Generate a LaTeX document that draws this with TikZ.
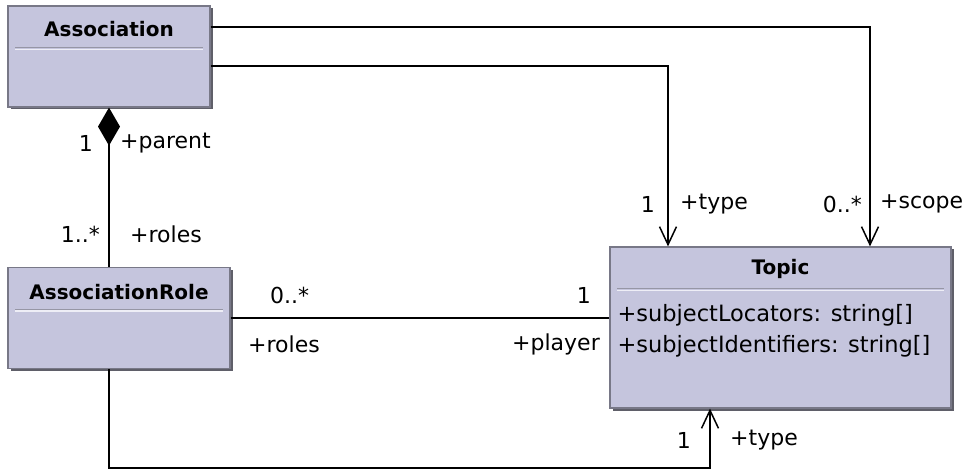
\documentclass[tikz,border=0pt]{standalone}
\usepackage{fontspec}
\setmainfont{DejaVu Sans}
\usetikzlibrary{arrows.meta, shadows}

\definecolor{classfill}{RGB}{197,197,221}
\definecolor{classline}{RGB}{120,120,135}
\definecolor{classshadow}{RGB}{95,95,105}
\definecolor{sepline}{RGB}{238,238,246}
\definecolor{sepdark}{RGB}{150,150,165}

\tikzset{
  umlclass/.style={draw=classline, fill=classfill, line width=1.2pt, inner sep=0pt,
    drop shadow={shadow xshift=2.5pt, shadow yshift=-2.5pt, fill=classshadow, opacity=1}},
  classname/.style={font=\fontsize{20}{23}\selectfont\bfseries, inner sep=0pt},
  attrs/.style={font=\fontsize{22.5}{31}\selectfont, align=left, anchor=north west, inner sep=0pt},
  mult/.style={font=\fontsize{22}{26}\selectfont, inner sep=0pt},
  sep/.style={draw=sepline, line width=1.6pt},
  sepshade/.style={draw=sepdark, line width=0.8pt},
  link/.style={line width=1.6pt},
  nav/.style={link, -{Straight Barb[length=18pt,width=17pt,line width=1.5pt]}},
  comp/.style={link, {Diamond[length=38pt,width=22pt]}-},
}

\begin{document}
\begin{tikzpicture}[x=1pt, y=-1pt]
  \useasboundingbox (0,0) rectangle (969,470);

  % classes
  \node[umlclass, minimum width=202pt, minimum height=101pt] (assoc) at (109,56.5) {};
  \node[classname] (assoc-name) at ([yshift=-24pt]assoc.north) {Association};
  \draw[sepshade] ([shift={(8pt,-42.5pt)}]assoc.north west) -- ([shift={(-8pt,-42.5pt)}]assoc.north east);
  \draw[sep] ([shift={(8pt,-44pt)}]assoc.north west) -- ([shift={(-8pt,-44pt)}]assoc.north east);

  \node[umlclass, minimum width=222pt, minimum height=101pt] (arole) at (119,318) {};
  \node[classname] (arole-name) at ([yshift=-25pt]arole.north) {AssociationRole};
  \draw[sepshade] ([shift={(8pt,-42.5pt)}]arole.north west) -- ([shift={(-8pt,-42.5pt)}]arole.north east);
  \draw[sep] ([shift={(8pt,-44pt)}]arole.north west) -- ([shift={(-8pt,-44pt)}]arole.north east);

  \node[umlclass, minimum width=341pt, minimum height=161pt] (topic) at (780.5,327.5) {};
  \node[classname] (topic-name) at ([yshift=-23pt]topic.north) {Topic};
  \draw[sepshade] ([shift={(8pt,-42.5pt)}]topic.north west) -- ([shift={(-8pt,-42.5pt)}]topic.north east);
  \draw[sep] ([shift={(8pt,-44pt)}]topic.north west) -- ([shift={(-8pt,-44pt)}]topic.north east);
  \node[attrs] (topic-attrs) at ([shift={(8pt,-58pt)}]topic.north west)
    {+subjectLocators: string[]\\+subjectIdentifiers: string[]};

  % connectors
  \draw[nav] ([yshift=29.5pt]assoc.east) -| ([xshift=89.5pt]topic.north);
  \draw[nav] ([yshift=-9.5pt]assoc.east) -| ([xshift=-112.5pt]topic.north);
  \draw[comp] (assoc.south) -- (assoc.south |- arole.north);
  \draw[link] (arole.east) -- (arole.east -| topic.west);
  \coordinate (corner) at (109,468);
  \draw[nav] (assoc.south |- arole.south) -- (corner) -| ([xshift=-70.5pt]topic.south);

  % multiplicities and roles
  \node[mult, anchor=east] (m-parent) at (93,143) {1};
  \node[mult, anchor=west] (r-parent) at (120,143) {+parent};
  \node[mult, anchor=east] (m-roles) at (100,234) {1..*};
  \node[mult, anchor=west] (r-roles) at (130,234) {+roles};
  \node[mult, anchor=west] (m-rroles) at (270,295) {0..*};
  \node[mult, anchor=east] (m-player) at (591,295) {1};
  \node[mult, anchor=west] (r-rroles) at (248,344) {+roles};
  \node[mult, anchor=east] (r-player) at (600,344) {+player};
  \node[mult, anchor=east] (m-type) at (655,204) {1};
  \node[mult, anchor=west] (r-type) at (680,204) {+type};
  \node[mult, anchor=east] (m-scope) at (862,204) {0..*};
  \node[mult, anchor=west] (r-scope) at (880,204) {+scope};
  \node[mult, anchor=east] (m-rtype) at (691,440) {1};
  \node[mult, anchor=west] (r-rtype) at (730,440) {+type};
\end{tikzpicture}
\end{document}
